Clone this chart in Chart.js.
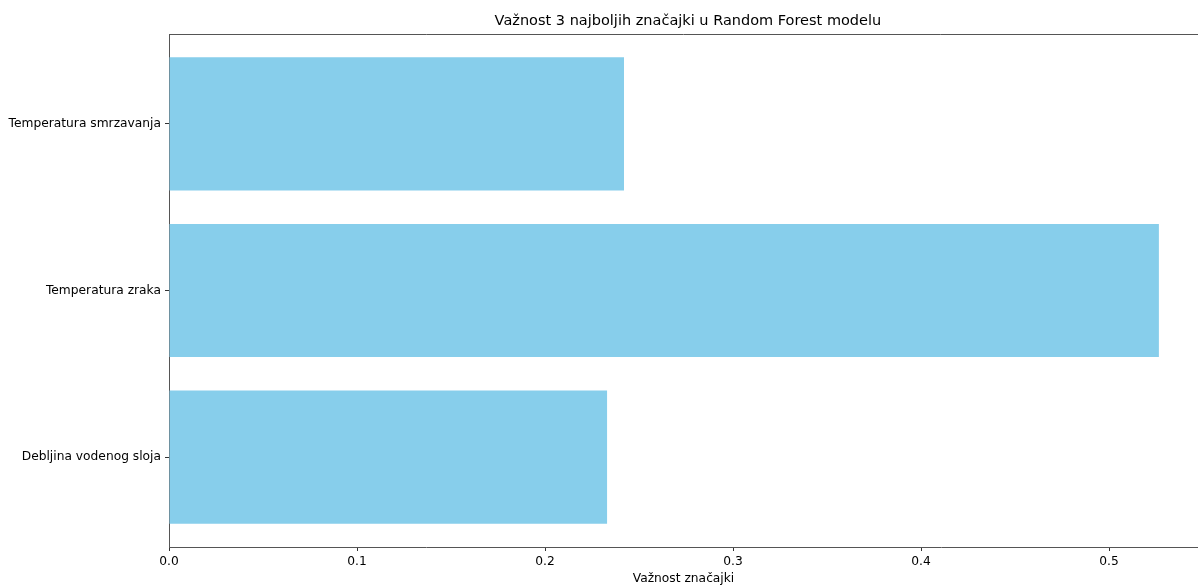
<!DOCTYPE html>
<html>
<head>
<meta charset="utf-8">
<script src="https://cdn.jsdelivr.net/npm/chart.js@4.4.1/dist/chart.umd.min.js"></script>
<style>
  html, body { margin: 0; padding: 0; background: #fff; }
  #wrap { width: 1198px; height: 586px; }
</style>
</head>
<body>
<div id="wrap"><canvas id="myChart" width="1198" height="586"></canvas></div>
<script>
// bottom to top, same order as the plot's y positions 0,1,2
const features = ['Debljina vodenog sloja', 'Temperatura zraka', 'Temperatura smrzavanja'];
const importances = [0.233, 0.5265, 0.242];
const xTicks = [0.0, 0.1, 0.2, 0.3, 0.4, 0.5];
const chartTitle = 'Važnost 3 najboljih značajki u Random Forest modelu';

const FONT = "'DejaVu Sans', sans-serif";
const spine = '#555';
// the original axes run a little past the right edge of the picture
const axesMax = 0.552;

const frame = {
  id: 'frame',
  afterDraw(chart) {
    const { ctx, chartArea, scales } = chart;
    ctx.save();
    ctx.strokeStyle = spine;
    ctx.lineWidth = 1;
    ctx.beginPath();
    ctx.moveTo(chartArea.left, chartArea.top + 0.5);
    ctx.lineTo(chartArea.right, chartArea.top + 0.5);
    ctx.stroke();
    // title centred over the full axes, as matplotlib does
    const cx = (chartArea.left + scales.x.getPixelForValue(axesMax)) / 2;
    ctx.fillStyle = '#000';
    ctx.font = '14.5px ' + FONT;
    ctx.textAlign = 'center';
    ctx.textBaseline = 'middle';
    ctx.fillText(chartTitle, cx, chartArea.top - 13);
    ctx.restore();
  }
};

new Chart(document.getElementById('myChart').getContext('2d'), {
  type: 'bar',
  data: {
    datasets: [{
      data: features.map((f, i) => ({ x: importances[i], y: i })),
      backgroundColor: '#87CEEB',
      borderWidth: 0,
      barPercentage: 0.8,
      categoryPercentage: 1.0
    }]
  },
  options: {
    indexAxis: 'y',
    responsive: false,
    animation: false,
    layout: { padding: { top: 34, left: 0, right: 0, bottom: 0 } },
    plugins: {
      legend: { display: false },
      tooltip: { enabled: false },
      title: { display: false }
    },
    scales: {
      x: {
        type: 'linear',
        min: 0,
        max: 0.5473,
        afterBuildTicks(axis) { axis.ticks = xTicks.map(v => ({ value: v })); },
        afterFit(axis) { axis.height = 39; },
        ticks: {
          color: '#000',
          font: { family: FONT, size: 12.25 },
          padding: 3,
          callback: v => v.toFixed(1)
        },
        grid: { drawOnChartArea: false, drawTicks: true, tickLength: 4, tickColor: '#333' },
        border: { display: true, color: spine, width: 1 },
        title: {
          display: true,
          text: 'Važnost značajki',
          color: '#000',
          font: { family: FONT, size: 12.25 },
          padding: { top: 0, bottom: 0 }
        }
      },
      y: {
        type: 'linear',
        offset: false,
        min: -0.54,
        max: 2.54,
        afterBuildTicks(axis) { axis.ticks = features.map((f, i) => ({ value: i })); },
        afterFit(axis) { axis.width = 169; },
        ticks: {
          color: '#000',
          font: { family: FONT, size: 12.25 },
          padding: 4,
          callback: v => features[v]
        },
        grid: { offset: false, drawOnChartArea: false, drawTicks: true, tickLength: 4, tickColor: '#333' },
        border: { display: true, color: spine, width: 1 }
      }
    }
  },
  plugins: [frame]
});
</script>
</body>
</html>
